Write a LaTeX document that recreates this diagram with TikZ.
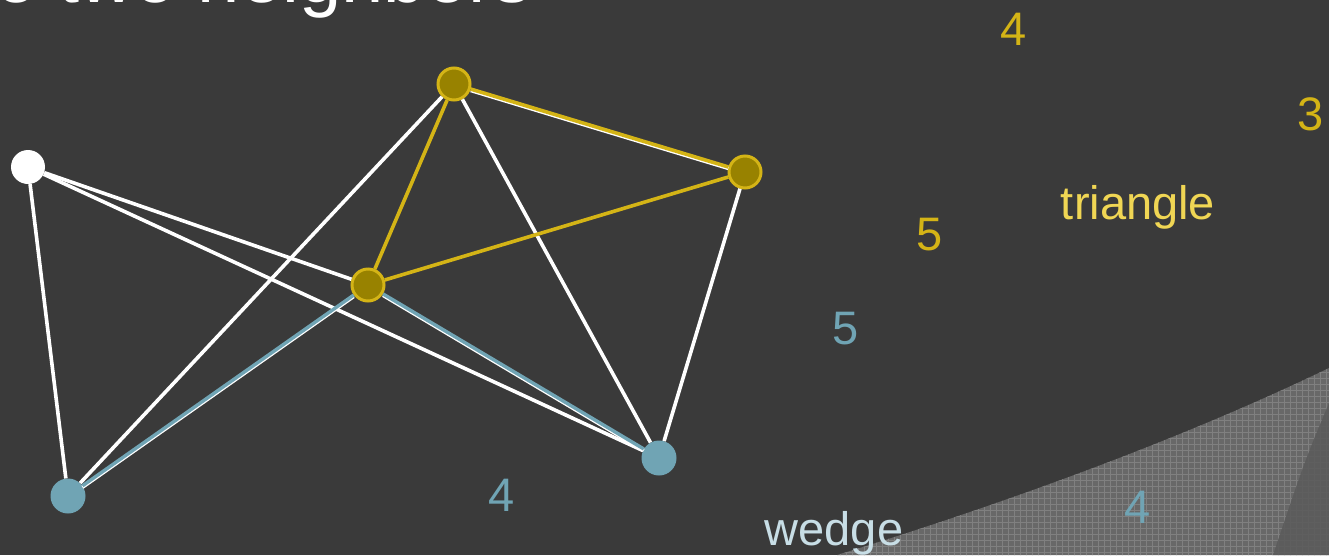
\documentclass[tikz,border=0pt]{standalone}
\usepackage{fontspec}
\setmainfont{Liberation Sans}
\usepackage{xcolor}
\usetikzlibrary{positioning}

\definecolor{slide}{RGB}{58,58,58}
\definecolor{triEdge}{RGB}{212,180,22}
\definecolor{triFill}{RGB}{152,130,0}
\definecolor{triText}{RGB}{240,214,84}
\definecolor{wedgeBlue}{RGB}{112,164,180}
\definecolor{wedgeText}{RGB}{200,222,230}
\definecolor{panel}{RGB}{104,104,104}
\definecolor{panelGrid}{RGB}{128,128,128}
\definecolor{panelDark}{RGB}{90,90,90}

\begin{document}
\begin{tikzpicture}[x=1pt, y=-1pt,
  vtx/.style={circle, inner sep=0pt, minimum size=34pt},
  wvtx/.style={vtx, fill=white},
  yvtx/.style={vtx, minimum size=32pt, fill=triFill, draw=triEdge, line width=3pt},
  bvtx/.style={vtx, minimum size=35pt, fill=wedgeBlue},
  wline/.style={white, line width=3.6pt},
  yline/.style={triEdge, line width=3.6pt},
  bline/.style={wedgeBlue, line width=3.4pt},
  under/.style={white, line width=3.6pt, transform canvas={yshift=-1.4pt}},
  count/.style={font=\fontsize{47}{56}\selectfont, inner sep=0pt},
  word/.style={font=\fontsize{47}{56}\selectfont, inner sep=0pt, anchor=base}
]
  \useasboundingbox (0,0) rectangle (1329,555);
  \fill[slide] (0,0) rectangle (1329,555);

  \begin{scope}
    \clip (0,0) rectangle (1329,555);
    % lower right panel
    \fill[panel] (837,555) .. controls (1000,505) and (1180,440) .. (1329,368)
      -- (1329,555) -- cycle;
    \begin{scope}
      \clip (837,555) .. controls (1000,505) and (1180,440) .. (1329,368)
        -- (1329,555) -- cycle;
      \draw[panelGrid, line width=0.6pt, step=6pt] (830,360) grid (1335,560);
    \end{scope}
    \fill[panelDark, opacity=0.85] (1329,403) .. controls (1305,460) .. (1273,555)
      -- (1329,555) -- cycle;

    \node[anchor=base east, text=white, inner sep=0pt,
          font=\fontsize{76}{90}\selectfont] (title) at (532,2) {o two neighbors};
  \end{scope}

  % vertices
  \node[wvtx] (w)  at (28,167)  {};
  \node[yvtx] (y1) at (454,84)  {};
  \node[yvtx] (y2) at (745,172) {};
  \node[yvtx] (y3) at (368,285) {};
  \node[bvtx] (b1) at (68,496)  {};
  \node[bvtx] (b2) at (659,458) {};

  % plain edges
  \draw[wline] (w)  -- (b1);
  \draw[wline] (w)  -- (y3);
  \draw[wline] (w)  -- (b2);
  \draw[wline] (y1) -- (b1);
  \draw[wline] (y1) -- (b2);
  \draw[wline] (y2) -- (b2);

  % wedge edges
  \draw[under] (y3) -- (b1);
  \draw[under] (y3) -- (b2);
  \draw[bline] (y3) -- (b1);
  \draw[bline] (y3) -- (b2);

  % triangle edges
  \draw[under] (y1) -- (y2);
  \draw[yline] (y1) -- (y2);
  \draw[yline] (y1) -- (y3);
  \draw[yline] (y2) -- (y3);

  % counts
  \node[count, text=triEdge]   (c4a) at (1014,29)  {4};
  \node[count, text=triEdge]   (c3)  at (1311,114) {3};
  \node[count, text=triEdge]   (c5a) at (930,235)  {5};
  \node[count, text=wedgeBlue] (c5b) at (846,329)  {5};
  \node[count, text=wedgeBlue] (c4b) at (502,495)  {4};
  \node[count, text=wedgeBlue] (c4c) at (1138,507) {4};

  \node[word, text=triText]   (tri) at (1138,219) {triangle};
  \node[word, text=wedgeText] (wed) at (834,545)  {wedge};
\end{tikzpicture}
\end{document}
